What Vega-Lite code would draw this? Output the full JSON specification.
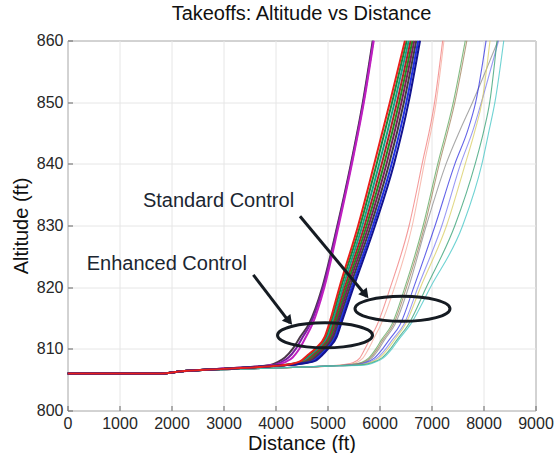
{
  "$schema": "https://vega.github.io/schema/vega-lite/v6.json",
  "width": 468,
  "height": 370,
  "autosize": "none",
  "padding": {"left": 67.5, "top": 40.5, "right": 22.5, "bottom": 42},
  "background": "white",
  "title": {"text": "Takeoffs: Altitude vs Distance", "font": "Liberation Sans", "fontSize": 20, "fontWeight": "normal", "color": "#111111", "anchor": "middle", "offset": 9},
  "config": {
    "view": {"stroke": "#7f7f7f", "strokeWidth": 1},
    "axis": {
      "labelFont": "Liberation Sans", "labelFontSize": 16, "labelColor": "#262626",
      "titleFont": "Liberation Sans", "titleFontSize": 20, "titleFontWeight": "normal", "titleColor": "#111111",
      "grid": true, "gridColor": "#e6e6e6", "gridWidth": 1,
      "domain": false, "tickColor": "#666666", "tickSize": -5, "labelFlush": false, "labelOverlap": false
    }
  },
  "datasets": {
    "lines": [
      {"s":"S1","g":"S","x":0,"a":806},{"s":"S1","g":"S","x":1800,"a":806},{"s":"S1","g":"S","x":2200,"a":806.3},{"s":"S1","g":"S","x":3000,"a":806.6},{"s":"S1","g":"S","x":4000,"a":806.9},{"s":"S1","g":"S","x":5000,"a":807.2},
      {"s":"S1","g":"S","x":5300,"a":807.45},{"s":"S1","g":"S","x":5500,"a":807.8},{"s":"S1","g":"S","x":5620,"a":808.5},{"s":"S1","g":"S","x":5720,"a":810},{"s":"S1","g":"S","x":5810,"a":811.5},{"s":"S1","g":"S","x":5960,"a":814},{"s":"S1","g":"S","x":6210,"a":820},{"s":"S1","g":"S","x":6570,"a":830},{"s":"S1","g":"S","x":6820,"a":840},{"s":"S1","g":"S","x":7060,"a":850},{"s":"S1","g":"S","x":7215,"a":860},
      {"s":"S2","g":"S","x":0,"a":806},{"s":"S2","g":"S","x":1800,"a":806},{"s":"S2","g":"S","x":2200,"a":806.3},{"s":"S2","g":"S","x":3000,"a":806.6},{"s":"S2","g":"S","x":4000,"a":806.9},{"s":"S2","g":"S","x":5000,"a":807.2},
      {"s":"S2","g":"S","x":5350,"a":807.45},{"s":"S2","g":"S","x":5560,"a":807.8},{"s":"S2","g":"S","x":5680,"a":808.5},{"s":"S2","g":"S","x":5790,"a":810},{"s":"S2","g":"S","x":5880,"a":811.5},{"s":"S2","g":"S","x":6030,"a":814},{"s":"S2","g":"S","x":6290,"a":820},{"s":"S2","g":"S","x":6630,"a":830},{"s":"S2","g":"S","x":6860,"a":840},{"s":"S2","g":"S","x":7090,"a":850},{"s":"S2","g":"S","x":7240,"a":860},
      {"s":"S3","g":"S","x":0,"a":806},{"s":"S3","g":"S","x":1800,"a":806},{"s":"S3","g":"S","x":2200,"a":806.3},{"s":"S3","g":"S","x":3000,"a":806.6},{"s":"S3","g":"S","x":4000,"a":806.9},{"s":"S3","g":"S","x":5000,"a":807.2},
      {"s":"S3","g":"S","x":5450,"a":807.45},{"s":"S3","g":"S","x":5650,"a":807.8},{"s":"S3","g":"S","x":5790,"a":808.5},{"s":"S3","g":"S","x":5930,"a":810},{"s":"S3","g":"S","x":6040,"a":811.5},{"s":"S3","g":"S","x":6240,"a":814},{"s":"S3","g":"S","x":6490,"a":820},{"s":"S3","g":"S","x":6840,"a":830},{"s":"S3","g":"S","x":7120,"a":840},{"s":"S3","g":"S","x":7420,"a":850},{"s":"S3","g":"S","x":7650,"a":860},
      {"s":"S4","g":"S","x":0,"a":806},{"s":"S4","g":"S","x":1800,"a":806},{"s":"S4","g":"S","x":2200,"a":806.3},{"s":"S4","g":"S","x":3000,"a":806.6},{"s":"S4","g":"S","x":4000,"a":806.9},{"s":"S4","g":"S","x":5000,"a":807.2},
      {"s":"S4","g":"S","x":5470,"a":807.45},{"s":"S4","g":"S","x":5680,"a":807.8},{"s":"S4","g":"S","x":5820,"a":808.5},{"s":"S4","g":"S","x":5960,"a":810},{"s":"S4","g":"S","x":6070,"a":811.5},{"s":"S4","g":"S","x":6270,"a":814},{"s":"S4","g":"S","x":6520,"a":820},{"s":"S4","g":"S","x":6870,"a":830},{"s":"S4","g":"S","x":7150,"a":840},{"s":"S4","g":"S","x":7450,"a":850},{"s":"S4","g":"S","x":7680,"a":860},
      {"s":"S5","g":"S","x":0,"a":806},{"s":"S5","g":"S","x":1800,"a":806},{"s":"S5","g":"S","x":2200,"a":806.3},{"s":"S5","g":"S","x":3000,"a":806.6},{"s":"S5","g":"S","x":4000,"a":806.9},{"s":"S5","g":"S","x":5000,"a":807.2},
      {"s":"S5","g":"S","x":5500,"a":807.45},{"s":"S5","g":"S","x":5700,"a":807.8},{"s":"S5","g":"S","x":5850,"a":808.5},{"s":"S5","g":"S","x":5990,"a":810},{"s":"S5","g":"S","x":6100,"a":811.5},{"s":"S5","g":"S","x":6300,"a":814},{"s":"S5","g":"S","x":6560,"a":820},{"s":"S5","g":"S","x":6900,"a":830},{"s":"S5","g":"S","x":7280,"a":840},{"s":"S5","g":"S","x":7550,"a":845.5},{"s":"S5","g":"S","x":7790,"a":850},{"s":"S5","g":"S","x":8280,"a":860},
      {"s":"S6","g":"S","x":0,"a":806},{"s":"S6","g":"S","x":1800,"a":806},{"s":"S6","g":"S","x":2200,"a":806.3},{"s":"S6","g":"S","x":3000,"a":806.6},{"s":"S6","g":"S","x":4000,"a":806.9},{"s":"S6","g":"S","x":5000,"a":807.2},
      {"s":"S6","g":"S","x":5520,"a":807.4},{"s":"S6","g":"S","x":5740,"a":807.8},{"s":"S6","g":"S","x":5900,"a":808.5},{"s":"S6","g":"S","x":6060,"a":810},{"s":"S6","g":"S","x":6190,"a":811.5},{"s":"S6","g":"S","x":6400,"a":814},{"s":"S6","g":"S","x":6660,"a":820},{"s":"S6","g":"S","x":7070,"a":830},{"s":"S6","g":"S","x":7450,"a":840},{"s":"S6","g":"S","x":7700,"a":845.5},{"s":"S6","g":"S","x":7850,"a":850},{"s":"S6","g":"S","x":8050,"a":860},
      {"s":"S7","g":"S","x":0,"a":806},{"s":"S7","g":"S","x":1800,"a":806},{"s":"S7","g":"S","x":2200,"a":806.3},{"s":"S7","g":"S","x":3000,"a":806.6},{"s":"S7","g":"S","x":4000,"a":806.9},{"s":"S7","g":"S","x":5000,"a":807.2},
      {"s":"S7","g":"S","x":5560,"a":807.4},{"s":"S7","g":"S","x":5780,"a":807.8},{"s":"S7","g":"S","x":5950,"a":808.5},{"s":"S7","g":"S","x":6120,"a":810},{"s":"S7","g":"S","x":6250,"a":811.5},{"s":"S7","g":"S","x":6470,"a":814},{"s":"S7","g":"S","x":6740,"a":820},{"s":"S7","g":"S","x":7200,"a":830},{"s":"S7","g":"S","x":7560,"a":840},{"s":"S7","g":"S","x":7800,"a":845.5},{"s":"S7","g":"S","x":7960,"a":850},{"s":"S7","g":"S","x":8290,"a":860},
      {"s":"S8","g":"S","x":0,"a":806},{"s":"S8","g":"S","x":1800,"a":806},{"s":"S8","g":"S","x":2200,"a":806.3},{"s":"S8","g":"S","x":3000,"a":806.6},{"s":"S8","g":"S","x":4000,"a":806.9},{"s":"S8","g":"S","x":5000,"a":807.2},
      {"s":"S8","g":"S","x":5600,"a":807.4},{"s":"S8","g":"S","x":5820,"a":807.8},{"s":"S8","g":"S","x":5990,"a":808.5},{"s":"S8","g":"S","x":6160,"a":810},{"s":"S8","g":"S","x":6290,"a":811.5},{"s":"S8","g":"S","x":6500,"a":814},{"s":"S8","g":"S","x":6790,"a":820},{"s":"S8","g":"S","x":7290,"a":830},{"s":"S8","g":"S","x":7650,"a":840},{"s":"S8","g":"S","x":7840,"a":845.5},{"s":"S8","g":"S","x":7970,"a":850},{"s":"S8","g":"S","x":8125,"a":860},
      {"s":"S9","g":"S","x":0,"a":806},{"s":"S9","g":"S","x":1800,"a":806},{"s":"S9","g":"S","x":2200,"a":806.3},{"s":"S9","g":"S","x":3000,"a":806.6},{"s":"S9","g":"S","x":4000,"a":806.9},{"s":"S9","g":"S","x":5000,"a":807.2},
      {"s":"S9","g":"S","x":5650,"a":807.4},{"s":"S9","g":"S","x":5870,"a":807.8},{"s":"S9","g":"S","x":6040,"a":808.5},{"s":"S9","g":"S","x":6210,"a":810},{"s":"S9","g":"S","x":6340,"a":811.5},{"s":"S9","g":"S","x":6560,"a":814},{"s":"S9","g":"S","x":6900,"a":820},{"s":"S9","g":"S","x":7450,"a":830},{"s":"S9","g":"S","x":7840,"a":840},{"s":"S9","g":"S","x":8010,"a":845.5},{"s":"S9","g":"S","x":8120,"a":850},{"s":"S9","g":"S","x":8260,"a":860},
      {"s":"S10","g":"S","x":0,"a":806},{"s":"S10","g":"S","x":1800,"a":806},{"s":"S10","g":"S","x":2200,"a":806.3},{"s":"S10","g":"S","x":3000,"a":806.6},{"s":"S10","g":"S","x":4000,"a":806.9},{"s":"S10","g":"S","x":5000,"a":807.2},
      {"s":"S10","g":"S","x":5700,"a":807.35},{"s":"S10","g":"S","x":5900,"a":807.8},{"s":"S10","g":"S","x":6070,"a":808.5},{"s":"S10","g":"S","x":6240,"a":810},{"s":"S10","g":"S","x":6370,"a":811.5},{"s":"S10","g":"S","x":6600,"a":814},{"s":"S10","g":"S","x":6980,"a":820},{"s":"S10","g":"S","x":7600,"a":830},{"s":"S10","g":"S","x":7970,"a":840},{"s":"S10","g":"S","x":8110,"a":845.5},{"s":"S10","g":"S","x":8220,"a":850},{"s":"S10","g":"S","x":8390,"a":860},

      {"s":"P1","g":"E","x":0,"a":806},{"s":"P1","g":"E","x":1800,"a":806},{"s":"P1","g":"E","x":2200,"a":806.35},{"s":"P1","g":"E","x":3000,"a":806.8},
      {"s":"P1","g":"E","x":3900,"a":807.4},{"s":"P1","g":"E","x":4050,"a":807.9},{"s":"P1","g":"E","x":4180,"a":808.6},{"s":"P1","g":"E","x":4330,"a":810},{"s":"P1","g":"E","x":4480,"a":812},{"s":"P1","g":"E","x":4640,"a":814},{"s":"P1","g":"E","x":4900,"a":820},{"s":"P1","g":"E","x":5190,"a":830},{"s":"P1","g":"E","x":5450,"a":840},{"s":"P1","g":"E","x":5680,"a":850},{"s":"P1","g":"E","x":5870,"a":860},
      {"s":"P2","g":"E","x":0,"a":806},{"s":"P2","g":"E","x":1800,"a":806},{"s":"P2","g":"E","x":2200,"a":806.35},{"s":"P2","g":"E","x":3000,"a":806.8},
      {"s":"P2","g":"E","x":3950,"a":807.4},{"s":"P2","g":"E","x":4120,"a":807.9},{"s":"P2","g":"E","x":4250,"a":808.6},{"s":"P2","g":"E","x":4390,"a":810},{"s":"P2","g":"E","x":4530,"a":812},{"s":"P2","g":"E","x":4670,"a":814},{"s":"P2","g":"E","x":4915,"a":820},{"s":"P2","g":"E","x":5200,"a":830},{"s":"P2","g":"E","x":5460,"a":840},{"s":"P2","g":"E","x":5690,"a":850},{"s":"P2","g":"E","x":5880,"a":860},
      {"s":"P3","g":"E","x":0,"a":806},{"s":"P3","g":"E","x":1800,"a":806},{"s":"P3","g":"E","x":2200,"a":806.35},{"s":"P3","g":"E","x":3000,"a":806.8},
      {"s":"P3","g":"E","x":4000,"a":807.4},{"s":"P3","g":"E","x":4200,"a":807.9},{"s":"P3","g":"E","x":4330,"a":808.6},{"s":"P3","g":"E","x":4460,"a":810},{"s":"P3","g":"E","x":4590,"a":812},{"s":"P3","g":"E","x":4710,"a":814},{"s":"P3","g":"E","x":4940,"a":820},{"s":"P3","g":"E","x":5215,"a":830},{"s":"P3","g":"E","x":5470,"a":840},{"s":"P3","g":"E","x":5700,"a":850},{"s":"P3","g":"E","x":5890,"a":860},

      {"s":"E2","g":"E","x":0,"a":806},{"s":"E2","g":"E","x":1800,"a":806},{"s":"E2","g":"E","x":2200,"a":806.35},{"s":"E2","g":"E","x":3000,"a":806.75},{"s":"E2","g":"E","x":4000,"a":807.25},
      {"s":"E2","g":"E","x":4318,"a":807.55},{"s":"E2","g":"E","x":4512,"a":808},{"s":"E2","g":"E","x":4654,"a":809},{"s":"E2","g":"E","x":4790,"a":810},{"s":"E2","g":"E","x":4978,"a":812},{"s":"E2","g":"E","x":5058,"a":814},{"s":"E2","g":"E","x":5262,"a":820},{"s":"E2","g":"E","x":5629,"a":830},{"s":"E2","g":"E","x":5946,"a":840},{"s":"E2","g":"E","x":6243,"a":850},{"s":"E2","g":"E","x":6525,"a":860},
      {"s":"E3","g":"E","x":0,"a":806},{"s":"E3","g":"E","x":1800,"a":806},{"s":"E3","g":"E","x":2200,"a":806.35},{"s":"E3","g":"E","x":3000,"a":806.75},{"s":"E3","g":"E","x":4000,"a":807.25},
      {"s":"E3","g":"E","x":4338,"a":807.55},{"s":"E3","g":"E","x":4548,"a":808},{"s":"E3","g":"E","x":4690,"a":809},{"s":"E3","g":"E","x":4823,"a":810},{"s":"E3","g":"E","x":5008,"a":812},{"s":"E3","g":"E","x":5088,"a":814},{"s":"E3","g":"E","x":5298,"a":820},{"s":"E3","g":"E","x":5671,"a":830},{"s":"E3","g":"E","x":5995,"a":840},{"s":"E3","g":"E","x":6290,"a":850},{"s":"E3","g":"E","x":6563,"a":860},
      {"s":"E4","g":"E","x":0,"a":806},{"s":"E4","g":"E","x":1800,"a":806},{"s":"E4","g":"E","x":2200,"a":806.35},{"s":"E4","g":"E","x":3000,"a":806.75},{"s":"E4","g":"E","x":4000,"a":807.25},
      {"s":"E4","g":"E","x":4357,"a":807.55},{"s":"E4","g":"E","x":4583,"a":808},{"s":"E4","g":"E","x":4726,"a":809},{"s":"E4","g":"E","x":4855,"a":810},{"s":"E4","g":"E","x":5037,"a":812},{"s":"E4","g":"E","x":5117,"a":814},{"s":"E4","g":"E","x":5333,"a":820},{"s":"E4","g":"E","x":5714,"a":830},{"s":"E4","g":"E","x":6044,"a":840},{"s":"E4","g":"E","x":6337,"a":850},{"s":"E4","g":"E","x":6600,"a":860},
      {"s":"E5","g":"E","x":0,"a":806},{"s":"E5","g":"E","x":1800,"a":806},{"s":"E5","g":"E","x":2200,"a":806.35},{"s":"E5","g":"E","x":3000,"a":806.75},{"s":"E5","g":"E","x":4000,"a":807.25},
      {"s":"E5","g":"E","x":4375,"a":807.55},{"s":"E5","g":"E","x":4615,"a":808},{"s":"E5","g":"E","x":4760,"a":809},{"s":"E5","g":"E","x":4885,"a":810},{"s":"E5","g":"E","x":5065,"a":812},{"s":"E5","g":"E","x":5145,"a":814},{"s":"E5","g":"E","x":5365,"a":820},{"s":"E5","g":"E","x":5753,"a":830},{"s":"E5","g":"E","x":6090,"a":840},{"s":"E5","g":"E","x":6380,"a":850},{"s":"E5","g":"E","x":6635,"a":860},
      {"s":"E6","g":"E","x":0,"a":806},{"s":"E6","g":"E","x":1800,"a":806},{"s":"E6","g":"E","x":2200,"a":806.35},{"s":"E6","g":"E","x":3000,"a":806.75},{"s":"E6","g":"E","x":4000,"a":807.25},
      {"s":"E6","g":"E","x":4393,"a":807.55},{"s":"E6","g":"E","x":4647,"a":808},{"s":"E6","g":"E","x":4794,"a":809},{"s":"E6","g":"E","x":4915,"a":810},{"s":"E6","g":"E","x":5093,"a":812},{"s":"E6","g":"E","x":5173,"a":814},{"s":"E6","g":"E","x":5397,"a":820},{"s":"E6","g":"E","x":5792,"a":830},{"s":"E6","g":"E","x":6136,"a":840},{"s":"E6","g":"E","x":6423,"a":850},{"s":"E6","g":"E","x":6670,"a":860},
      {"s":"E7","g":"E","x":0,"a":806},{"s":"E7","g":"E","x":1800,"a":806},{"s":"E7","g":"E","x":2200,"a":806.35},{"s":"E7","g":"E","x":3000,"a":806.75},{"s":"E7","g":"E","x":4000,"a":807.25},
      {"s":"E7","g":"E","x":4413,"a":807.55},{"s":"E7","g":"E","x":4683,"a":808},{"s":"E7","g":"E","x":4830,"a":809},{"s":"E7","g":"E","x":4948,"a":810},{"s":"E7","g":"E","x":5123,"a":812},{"s":"E7","g":"E","x":5203,"a":814},{"s":"E7","g":"E","x":5433,"a":820},{"s":"E7","g":"E","x":5834,"a":830},{"s":"E7","g":"E","x":6185,"a":840},{"s":"E7","g":"E","x":6470,"a":850},{"s":"E7","g":"E","x":6708,"a":860},
      {"s":"E8","g":"E","x":0,"a":806},{"s":"E8","g":"E","x":1800,"a":806},{"s":"E8","g":"E","x":2200,"a":806.35},{"s":"E8","g":"E","x":3000,"a":806.75},{"s":"E8","g":"E","x":4000,"a":807.25},
      {"s":"E8","g":"E","x":4432,"a":807.55},{"s":"E8","g":"E","x":4718,"a":808},{"s":"E8","g":"E","x":4866,"a":809},{"s":"E8","g":"E","x":4980,"a":810},{"s":"E8","g":"E","x":5152,"a":812},{"s":"E8","g":"E","x":5232,"a":814},{"s":"E8","g":"E","x":5468,"a":820},{"s":"E8","g":"E","x":5876,"a":830},{"s":"E8","g":"E","x":6234,"a":840},{"s":"E8","g":"E","x":6517,"a":850},{"s":"E8","g":"E","x":6745,"a":860},
      {"s":"E9","g":"E","x":0,"a":806},{"s":"E9","g":"E","x":1800,"a":806},{"s":"E9","g":"E","x":2200,"a":806.35},{"s":"E9","g":"E","x":3000,"a":806.75},{"s":"E9","g":"E","x":4000,"a":807.25},
      {"s":"E9","g":"E","x":4450,"a":807.55},{"s":"E9","g":"E","x":4750,"a":808},{"s":"E9","g":"E","x":4900,"a":809},{"s":"E9","g":"E","x":5010,"a":810},{"s":"E9","g":"E","x":5180,"a":812},{"s":"E9","g":"E","x":5260,"a":814},{"s":"E9","g":"E","x":5500,"a":820},{"s":"E9","g":"E","x":5915,"a":830},{"s":"E9","g":"E","x":6280,"a":840},{"s":"E9","g":"E","x":6560,"a":850},{"s":"E9","g":"E","x":6780,"a":860},
      {"s":"E1","g":"E","x":0,"a":806},{"s":"E1","g":"E","x":1800,"a":806},{"s":"E1","g":"E","x":2200,"a":806.35},{"s":"E1","g":"E","x":3000,"a":806.75},{"s":"E1","g":"E","x":4000,"a":807.25},
      {"s":"E1","g":"E","x":4300,"a":807.55},{"s":"E1","g":"E","x":4480,"a":808},{"s":"E1","g":"E","x":4620,"a":809},{"s":"E1","g":"E","x":4760,"a":810},{"s":"E1","g":"E","x":4950,"a":812},{"s":"E1","g":"E","x":5030,"a":814},{"s":"E1","g":"E","x":5230,"a":820},{"s":"E1","g":"E","x":5590,"a":830},{"s":"E1","g":"E","x":5900,"a":840},{"s":"E1","g":"E","x":6200,"a":850},{"s":"E1","g":"E","x":6490,"a":860}
    ],
    "ellipses": [
      {"name": "Enhanced", "x": 4952, "a": 812.2},
      {"name": "Standard", "x": 6442, "a": 816.5}
    ],
    "arrows": [
      {"name": "Standard", "x": 4471, "a": 831.5, "x2": 5754, "a2": 818.5},
      {"name": "Enhanced", "x": 3573, "a": 822.0, "x2": 4279, "a2": 814.2}
    ],
    "heads": [
      {"name": "Standard", "x": 5730, "a": 818.8},
      {"name": "Enhanced", "x": 4262, "a": 814.5}
    ],
    "notes": [
      {"label": "Standard Control", "x": 1450, "a": 834},
      {"label": "Enhanced Control", "x": 370, "a": 823.8}
    ]
  },
  "encoding": {
    "x": {"field": "x", "type": "quantitative", "scale": {"domain": [0, 9000], "nice": false, "zero": false},
      "axis": {"title": "Distance (ft)", "values": [0,1000,2000,3000,4000,5000,6000,7000,8000,9000], "format": "d", "labelPadding": 10, "titlePadding": 2}},
    "y": {"field": "a", "type": "quantitative", "scale": {"domain": [800, 860], "nice": false, "zero": false},
      "axis": {"title": "Altitude (ft)", "values": [800,810,820,830,840,850,860], "format": "d", "labelPadding": 9.5, "titlePadding": 5}}
  },
  "layer": [
    {
      "data": {"name": "lines"},
      "transform": [{"filter": "datum.g === 'S'"}],
      "mark": {"type": "line", "strokeWidth": 1.1, "opacity": 0.75, "interpolate": "monotone", "clip": true},
      "encoding": {
        "color": {"field": "s", "type": "nominal", "legend": null,
          "scale": {"domain": ["S1","S2","S3","S4","S5","S6","S7","S8","S9","S10","P1","P2","P3","E2","E3","E4","E5","E6","E7","E8","E9","E1"],
                    "range": ["#f07878","#f4a89a","#5aa55a","#a0805a","#8c8c8c","#3030e0","#7878f0","#d8cc60","#2f9e70","#40c4c4","#4a3848","#7a1fa0","#c020c0","#1b8a3a","#16a085","#b0202a","#228b22","#7b1f5a","#404040","#2030e0","#141490","#e8201c"]}},
        "detail": {"field": "s"}
      }
    },
    {
      "data": {"name": "lines"},
      "transform": [{"filter": "datum.g === 'E'"}],
      "mark": {"type": "line", "strokeWidth": 2, "interpolate": "monotone", "clip": true},
      "encoding": {
        "color": {"field": "s", "type": "nominal", "legend": null},
        "detail": {"field": "s"}
      }
    },
    {
      "data": {"name": "ellipses"},
      "mark": {"type": "point", "shape": "M -1 0 C -1 -0.145 -0.552 -0.263 0 -0.263 C 0.552 -0.263 1 -0.145 1 0 C 1 0.145 0.552 0.263 0 0.263 C -0.552 0.263 -1 0.145 -1 0 Z", "size": 9025, "filled": false, "stroke": "#151b22", "strokeWidth": 3, "opacity": 1}
    },
    {
      "data": {"name": "arrows"},
      "mark": {"type": "rule", "stroke": "#151b22", "strokeWidth": 3},
      "encoding": {"x2": {"field": "x2"}, "y2": {"field": "a2"}}
    },
    {
      "data": {"name": "heads"},
      "mark": {"type": "point", "shape": "triangle-up", "size": 120, "filled": true, "color": "#151b22", "opacity": 1, "angle": 141}
    },
    {
      "data": {"name": "notes"},
      "mark": {"type": "text", "align": "left", "baseline": "middle", "font": "Liberation Sans", "fontSize": 20, "color": "#1b2631"},
      "encoding": {"text": {"field": "label"}}
    }
  ]
}
